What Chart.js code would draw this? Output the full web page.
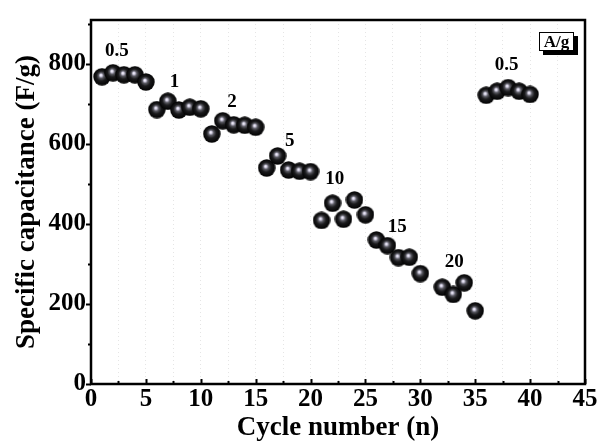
<!DOCTYPE html>
<html>
<head>
<meta charset="utf-8">
<script src="https://cdn.jsdelivr.net/npm/chart.js@4.4.1/dist/chart.umd.min.js"></script>
<style>
  html, body { margin: 0; padding: 0; background: #fff; }
</style>
</head>
<body>
<canvas id="chart" width="602" height="444"></canvas>
<script>
// cycle number vs specific capacitance (F/g)
const cycles = [1, 2, 3, 4, 5, 6, 7, 8, 9, 10, 11, 12, 13, 14, 15, 16, 17, 18, 19, 20,
                21, 22, 23, 24, 25, 26, 27, 28, 29, 30, 32, 33, 34, 35, 36, 37, 38, 39, 40];
const capacitance = [768, 778, 773, 773, 755, 686, 707, 685, 692, 688,
                     625, 658, 648, 647, 642, 540, 570, 535, 532, 531,
                     409, 452, 412, 460, 423, 360, 346, 316, 317, 276,
                     242, 224, 253, 183, 722, 732, 741, 732, 724];

// current density labels (A/g) and where they sit, in data units
const rateLabels = ["0.5", "1", "2", "5", "10", "15", "20", "0.5"];
const rateLabelX = [2.35, 7.6, 12.85, 18.1, 22.2, 27.9, 33.1, 37.85];
const rateLabelY = [833, 755, 704, 607, 513, 392, 306, 798];

const xTickLabels = [0, 5, 10, 15, 20, 25, 30, 35, 40, 45];
const yTickLabels = [0, 200, 400, 600, 800];
const yMinorTicks = [100, 300, 500, 700, 900];

const serif = "'Liberation Serif', 'Times New Roman', serif";

function makeBall(d) {
    let c = document.createElement("canvas");
    c.width = d; c.height = d;
    let g = c.getContext("2d");
    let r = d / 2;
    let grad = g.createRadialGradient(r - 1.2, r - 1.8, 0, r, r, r);
    grad.addColorStop(0, "#ffffff");
    grad.addColorStop(0.12, "#d9d5ea");
    grad.addColorStop(0.3, "#5a5a62");
    grad.addColorStop(0.55, "#1a1a1c");
    grad.addColorStop(1, "#000000");
    g.fillStyle = grad;
    g.beginPath();
    g.arc(r, r, r - 0.3, 0, Math.PI * 2);
    g.fill();
    return c;
}

const ball = makeBall(18);

const frameAndTicks = {
    id: "frameAndTicks",
    afterDraw(chart) {
        const ctx = chart.ctx;
        const a = chart.chartArea;
        const xs = chart.scales.x, ys = chart.scales.y;
        ctx.save();
        ctx.strokeStyle = "#000";
        ctx.lineWidth = 2;
        // y ticks, outward
        ys.ticks.forEach(t => {
            let py = Math.round(ys.getPixelForValue(t.value)) + 0.5;
            let len = yTickLabels.includes(t.value) ? 5 : 3;
            ctx.beginPath();
            ctx.moveTo(a.left, py);
            ctx.lineTo(a.left - len, py);
            ctx.stroke();
        });
        // x ticks, inward
        xs.ticks.forEach(t => {
            let px = Math.round(xs.getPixelForValue(t.value)) + 0.5;
            let len = xTickLabels.includes(t.value) ? 5 : 3;
            ctx.beginPath();
            ctx.moveTo(px, a.bottom);
            ctx.lineTo(px, a.bottom - len);
            ctx.stroke();
        });
        ctx.lineWidth = 2.5;
        ctx.strokeRect(a.left, a.top, a.right - a.left, a.bottom - a.top);

        // rate labels
        ctx.fillStyle = "#000";
        ctx.font = "bold 19px " + serif;
        ctx.textAlign = "center";
        ctx.textBaseline = "middle";
        rateLabels.forEach((lab, i) => {
            ctx.fillText(lab, xs.getPixelForValue(rateLabelX[i]), ys.getPixelForValue(rateLabelY[i]));
        });

        // A/g unit box with shadow
        let bw = 35, bh = 19;
        let bx = a.right - 11 - bw, by = a.top + 12;
        ctx.fillStyle = "#000";
        ctx.fillRect(bx + 4, by + 4, bw, bh);
        ctx.fillStyle = "#fff";
        ctx.fillRect(bx, by, bw, bh);
        ctx.lineWidth = 1;
        ctx.strokeRect(bx + 0.5, by + 0.5, bw - 1, bh - 1);
        ctx.fillStyle = "#000";
        ctx.font = "bold 17px " + serif;
        ctx.fillText("A/g", bx + bw / 2, by + bh / 2 + 1);
        ctx.restore();
    }
};

new Chart(document.getElementById("chart"), {
    type: "scatter",
    data: {
        datasets: [{
            data: cycles.map((c, i) => ({ x: c, y: capacitance[i] })),
            pointStyle: ball,
            pointRadius: 9,
            pointHoverRadius: 9
        }]
    },
    options: {
        responsive: false,
        animation: false,
        layout: { padding: { top: 15, right: 17, left: 0, bottom: 0 } },
        plugins: { legend: { display: false }, tooltip: { enabled: false } },
        scales: {
            x: {
                type: "linear",
                min: 0,
                max: 45,
                afterFit(scale) { scale.height = 60; },
                grid: { color: "rgba(0,0,0,0.10)", drawTicks: false, lineWidth: 1 },
                border: { display: false, dash: [1, 3] },
                ticks: {
                    stepSize: 2.5,
                    padding: 1,
                    color: "#000",
                    font: { family: serif, size: 25, weight: "bold" },
                    maxRotation: 0,
                    autoSkip: false,
                    callback: v => xTickLabels.includes(v) ? String(v) : ""
                },
                title: {
                    display: true,
                    text: "Cycle number (n)",
                    color: "#000",
                    font: { family: serif, size: 27, weight: "bold" },
                    padding: { top: 0, bottom: 0 }
                }
            },
            y: {
                min: 0,
                max: 910,
                afterFit(scale) { scale.width = 91; },
                afterBuildTicks(scale) {
                    scale.ticks = yTickLabels.concat(yMinorTicks)
                        .sort((p, q) => p - q)
                        .map(v => ({ value: v }));
                },
                grid: { drawOnChartArea: false, drawTicks: false },
                border: { display: false },
                ticks: {
                    padding: 5,
                    color: "#000",
                    font: { family: serif, size: 25, weight: "bold" },
                    autoSkip: false,
                    callback: v => yTickLabels.includes(v) ? String(v) : ""
                },
                title: {
                    display: true,
                    text: "Specific capacitance (F/g)",
                    color: "#000",
                    font: { family: serif, size: 27, weight: "bold" },
                    padding: { top: 11, bottom: 0 }
                }
            }
        }
    },
    plugins: [frameAndTicks]
});
</script>
</body>
</html>
